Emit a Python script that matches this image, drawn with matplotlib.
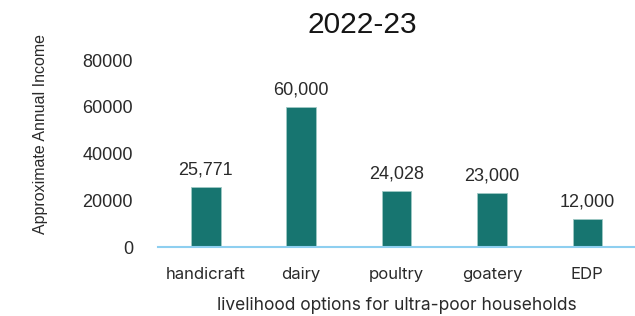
import matplotlib.pyplot as plt

# data
categories = ['handicraft', 'dairy', 'poultry', 'goatery', 'EDP']
income = [25771, 60000, 24028, 23000, 12000]
yticks = [0, 20000, 40000, 60000, 80000]

bar_color = '#177570'
base_color = '#8ECFF0'

fig = plt.figure(figsize=(6.35, 3.16), dpi=100)
ax = fig.add_axes([0.249, 0.218, 0.751, 0.592])

bars = ax.bar(range(len(categories)), income, width=0.31, color=bar_color,
              edgecolor='#9fc9c5', linewidth=0.6, zorder=2)

# value labels
for b, v in zip(bars, income):
    ax.text(b.get_x() + b.get_width() / 2, v + 3600, f'{v:,}',
            ha='center', va='bottom', fontsize=13, family='Liberation Sans', color='#2a2a2a')

ax.set_xlim(-0.5, 4.5)
ax.set_ylim(0, 80000)
ax.set_yticks(yticks)
ax.set_yticklabels([str(t) for t in yticks], family='Liberation Sans', fontsize=13, color='#2a2a2a')
ax.set_xticks(range(len(categories)))
ax.set_xticklabels(categories, family='Inter', fontsize=12, color='#2a2a2a')
ax.tick_params(axis='both', length=0)
ax.tick_params(axis='y', pad=18)
ax.tick_params(axis='x', pad=14)

for s in ['top', 'right', 'left']:
    ax.spines[s].set_visible(False)
ax.spines['bottom'].set_color(base_color)
ax.spines['bottom'].set_linewidth(1.5)

ax.set_xlabel('livelihood options for ultra-poor households', family='Inter', fontsize=12.5,
              color='#2a2a2a', labelpad=11)
fig.text(0.063, 0.576, 'Approximate Annual Income', rotation=90, ha='center', va='center',
         family='Liberation Sans', fontsize=11.5, color='#2a2a2a')

fig.text(0.571, 0.92, '2022-23', ha='center', va='center', family='Liberation Sans',
         fontsize=21.5, color='#151515')

fig.savefig('out.png', dpi=100)
